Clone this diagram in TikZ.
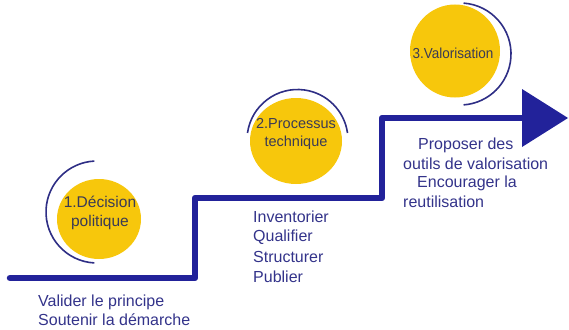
\documentclass[tikz,border=0pt]{standalone}
\usepackage{fontspec}
\setmainfont{Liberation Sans}
\definecolor{stairblue}{HTML}{22229A}
\definecolor{arcblue}{HTML}{2E2E85}
\definecolor{disc}{HTML}{F7C70C}
\definecolor{disctext}{HTML}{3A3A55}
\definecolor{desctext}{HTML}{33338A}
\tikzset{
  stair/.style={draw=stairblue, line width=6.5pt, line cap=round, line join=round},
  discshape/.style={ellipse, fill=disc, inner sep=0pt},
  halo/.style={draw=arcblue, line width=1.6pt},
  disclabel/.style={text=disctext, font=\fontsize{14.5}{18.5}\selectfont, align=center, inner sep=0pt},
  desc/.style={text=desctext, font=\fontsize{16}{19}\selectfont, anchor=west, inner sep=0pt},
}
\usetikzlibrary{shapes.geometric}
\begin{document}
\begin{tikzpicture}[x=1pt,y=-1pt]
\useasboundingbox (0,0) rectangle (569,329);
% staircase
\coordinate (s0) at (10,278);
\coordinate (s1) at (195,278);
\coordinate (s2) at (195,198);
\coordinate (s3) at (382,198);
\coordinate (s4) at (382,118);
\coordinate (s5) at (526,118);
\draw[stair] (s0) -- (s1) -- (s2) -- (s3) -- (s4) -- (s5);
\coordinate (h1) at (522,89);
\coordinate (h2) at (568,118);
\coordinate (h3) at (522,147);
\fill[stairblue] (h1) -- (h2) -- (h3) -- cycle;
% discs
\node[discshape, minimum width=84pt, minimum height=80pt] (d1) at (99,219) {};
\node[discshape, minimum width=92pt, minimum height=86pt] (d2) at (296,141) {};
\node[discshape, minimum width=90pt, minimum height=93pt] (d3) at (455,51) {};
% halos
\coordinate (a1) at (97,212);
\draw[halo] (a1) ++(93:51) arc[start angle=93, end angle=267, radius=51];
\coordinate (a2) at (297.5,140);
\draw[halo] (a2) ++(188:50.5) arc[start angle=188, end angle=352, radius=50.5];
\coordinate (a3) at (460,54);
\draw[halo] (a3) ++(-86:51) arc[start angle=-86, end angle=86, radius=51];
% disc labels
\node[disclabel, font=\fontsize{15.5}{19}\selectfont] (t1) at (100,212.5) {1.Décision\\politique};
\node[disclabel] (t2) at (296,134) {2.Processus\\technique};
\node[disclabel, xscale=0.93] (t3) at (453,53) {3.Valorisation};
% descriptions
\node[desc] (b1) at (38,302) {Valider le principe};
\node[desc] (b2) at (38,320) {Soutenir la démarche};
\node[desc] (m1) at (253,217) {Inventorier};
\node[desc] (m2) at (253,237) {Qualifier};
\node[desc] (m3) at (253,257) {Structurer};
\node[desc] (m4) at (253,277) {Publier};
\node[desc] (r1) at (418,145) {Proposer des};
\node[desc] (r2) at (403,164) {outils de valorisation};
\node[desc] (r3) at (417,183) {Encourager la};
\node[desc] (r4) at (403,202) {reutilisation};
\end{tikzpicture}
\end{document}
